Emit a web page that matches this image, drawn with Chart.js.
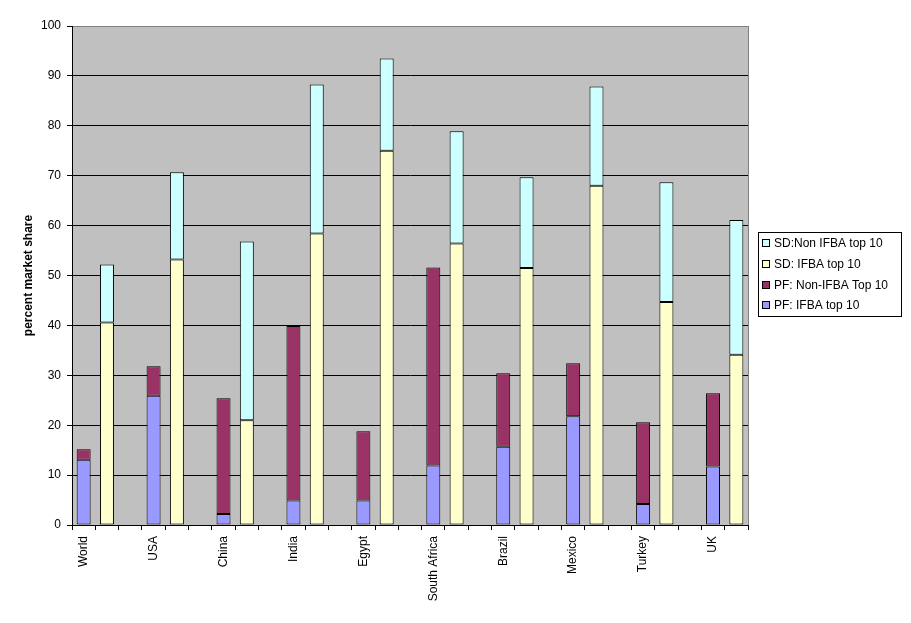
<!DOCTYPE html>
<html><head><meta charset="utf-8">
<script src="https://cdn.jsdelivr.net/npm/chart.js@4.4.1/dist/chart.umd.min.js"></script>
<style>html,body{margin:0;padding:0;background:#fff}#wrap{width:911px;height:623px;position:relative}</style>
</head><body><div id="wrap"><canvas id="c"></canvas></div>
<script>
const countries = ["World","USA","China","India","Egypt","South Africa","Brazil","Mexico","Turkey","UK"];
const pfIfba   = [13.1, 25.9,  2.2,  4.9,  4.9, 11.9, 15.7, 21.8,  4.2, 11.7];
const pfNonIfba= [ 2.1,  5.9, 23.2, 35.0, 13.9, 39.7, 14.7, 10.6, 16.4, 14.7];
const sdIfba   = [40.6, 53.2, 21.0, 58.4, 75.0, 56.4, 51.5, 68.0, 44.7, 34.1];
const sdNonIfba= [11.6, 17.5, 35.8, 29.9, 18.5, 22.5, 18.2, 19.9, 24.0, 27.0];
const seriesNames = ["PF: IFBA top 10","PF: Non-IFBA Top 10","SD: IFBA top 10","SD:Non IFBA top 10"];
const yTicks = [0,10,20,30,40,50,60,70,80,90,100];

const nCat = countries.length*3 - 1;
const labels = [];
for (let i=0;i<nCat;i++){
  const c = countries[Math.floor(i/3)];
  labels.push(i%3===0 ? c : (i%3===1 ? c+" SD" : c+" gap"));
}
function spread(vals, off){ const a=new Array(nCat).fill(null); vals.forEach((v,i)=>{a[i*3+off]=v;}); return a; }

Chart.defaults.font.family = '"Liberation Sans", Arial, sans-serif';
Chart.defaults.font.size = 12;
Chart.defaults.color = '#000';

const bgPlugin = {
  id:'plotBg',
  beforeDraw(chart){
    const {ctx, chartArea:a} = chart;
    ctx.save(); ctx.fillStyle='#C0C0C0'; ctx.fillRect(a.left,a.top,a.right-a.left,a.bottom-a.top); ctx.restore();
  },
  afterDatasetsDraw(chart){
    const {ctx, chartArea:a} = chart;
    ctx.save(); ctx.strokeStyle='#808080'; ctx.lineWidth=1;
    ctx.beginPath(); ctx.moveTo(a.right+0.5,a.top); ctx.lineTo(a.right+0.5,a.bottom); ctx.stroke();
    ctx.restore();
  }
};
const legendPlugin = {
  id:'boxLegend',
  afterDraw(chart){
    const ctx = chart.ctx; ctx.save();
    ctx.strokeStyle='#000'; ctx.lineWidth=1;
    ctx.strokeRect(758.5,232.5,143,84);
    ctx.font='12px "Liberation Sans", Arial, sans-serif';
    ctx.textBaseline='middle'; ctx.textAlign='left';
    const ds = chart.data.datasets.slice().reverse();
    ds.forEach((d,i)=>{
      const cy = Math.round(243 + i*20.8);
      ctx.fillStyle = d.backgroundColor; ctx.fillRect(762,cy-4,8,8);
      ctx.strokeRect(762.5,cy-3.5,7,7);
      ctx.fillStyle='#000'; ctx.fillText(d.label, 774, cy+1);
    });
    ctx.restore();
  }
};

const colors = ['#9999FF','#993366','#FFFFCC','#CCFFFF'];
const datasets = [
  {label:seriesNames[0], data:spread(pfIfba,0)},
  {label:seriesNames[1], data:spread(pfNonIfba,0)},
  {label:seriesNames[2], data:spread(sdIfba,1)},
  {label:seriesNames[3], data:spread(sdNonIfba,1)}
].map((d,i)=>Object.assign(d,{backgroundColor:colors[i],borderColor:'#000',borderWidth:1,borderSkipped:false,stack:'s',categoryPercentage:1,barPercentage:0.6}));

new Chart(document.getElementById('c'), {
  type:'bar',
  data:{labels, datasets},
  options:{
    responsive:true, maintainAspectRatio:false, animation:false,
    layout:{padding:{top:26,right:163,left:0,bottom:0}},
    plugins:{legend:{display:false}, tooltip:{enabled:false}},
    scales:{
      x:{
        stacked:true,
        grid:{offset:true, drawOnChartArea:false, drawTicks:true, tickLength:5, color:'#000', lineWidth:1},
        border:{display:true,color:'#000'},
        ticks:{autoSkip:false, minRotation:90, maxRotation:90, padding:6, color:'#000', font:{size:12},
          callback:(v,i)=> i%3===0 ? countries[i/3] : ''},
        afterFit(s){ s.height = 98; }
      },
      y:{
        stacked:true, min:0, max:100,
        afterBuildTicks(s){ s.ticks = yTicks.map(v=>({value:v})); },
        grid:{color:(c)=> (c.tick && c.tick.value===100) ? '#808080' : '#000', tickColor:'#000', tickLength:5},
        border:{display:true,color:'#000'},
        ticks:{padding:6, color:'#000', font:{size:12}},
        title:{display:true, text:'percent market share', font:{size:12, weight:'bold'}, color:'#000', padding:{top:21,bottom:0}},
        afterFit(s){ s.width = 72; }
      }
    }
  },
  plugins:[bgPlugin, legendPlugin]
});
</script></body></html>
